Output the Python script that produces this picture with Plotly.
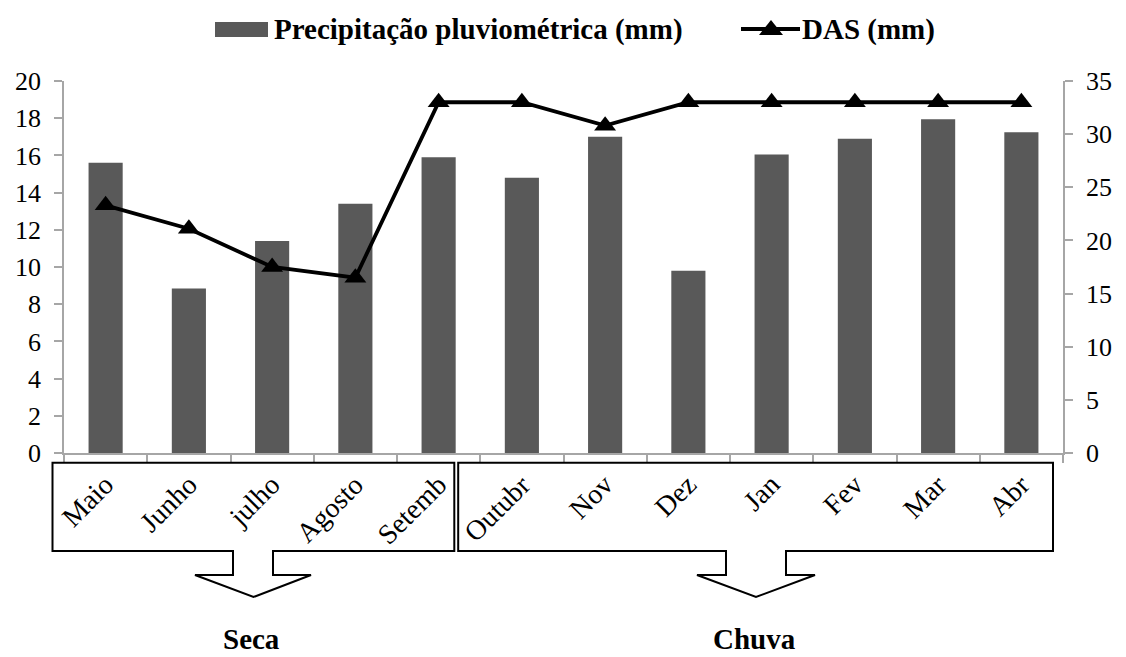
import plotly.graph_objects as go

# Monthly values
meses = ["Maio", "Junho", "julho", "Agosto", "Setemb", "Outubr",
         "Nov", "Dez", "Jan", "Fev", "Mar", "Abr"]
precipitacao = [15.6, 8.85, 11.4, 13.4, 15.9, 14.8, 17.0, 9.8, 16.05, 16.9, 17.95, 17.25]
das = [23.3, 21.1, 17.5, 16.5, 33.0, 33.0, 30.8, 33.0, 33.0, 33.0, 33.0, 33.0]

y_left_ticks = list(range(0, 21, 2))
y_right_ticks = list(range(0, 36, 5))

W, H = 1126, 657
L, R, T, B = 64, 1063, 81, 453   # plot area in pixels


def px(x):
    return (x - L) / (R - L)


def py(y):
    return (B - y) / (B - T)


FONT = "Liberation Serif"
AXIS_GRAY = "#a6a6a6"
BAR_COLOR = "#595959"

fig = go.Figure()

fig.add_trace(go.Bar(
    x=meses, y=precipitacao,
    name="Precipitação pluviométrica (mm)",
    marker=dict(color=BAR_COLOR, line=dict(width=0)),
    yaxis="y", showlegend=False,
))

fig.add_trace(go.Scatter(
    x=meses, y=das,
    name="DAS (mm)",
    mode="lines+markers",
    line=dict(color="black", width=3.8),
    marker=dict(symbol="triangle-up", size=19, color="black"),
    yaxis="y2", showlegend=False, cliponaxis=False,
))


def poly(pts, **kw):
    path = "M " + " L ".join(f"{px(a):.5f},{py(b):.5f}" for a, b in pts) + " Z"
    return dict(type="path", path=path, xref="paper", yref="paper", **kw)


# Season boxes with downward arrows (one path each, open where the arrow stem joins)
def box_with_arrow(x0, x1, y0, y1, s0, s1, h0, h1, tip_x, shoulder_y, tip_y):
    pts = [(s0, y1), (x0, y1), (x0, y0), (x1, y0), (x1, y1), (s1, y1),
           (s1, shoulder_y), (h1, shoulder_y), (tip_x, tip_y), (h0, shoulder_y),
           (s0, shoulder_y)]
    return poly(pts, line=dict(color="black", width=2), fillcolor="rgba(0,0,0,0)")


shapes = [
    box_with_arrow(52.5, 454.3, 462.7, 551, 233, 273, 195, 311, 253.5, 575, 597),
    box_with_arrow(458.2, 1053, 462.7, 551, 726, 786, 697, 815, 756, 575, 597),
    # legend keys
    dict(type="rect", xref="paper", yref="paper",
         x0=px(215), x1=px(268), y0=py(37), y1=py(22),
         fillcolor=BAR_COLOR, line=dict(width=0)),
    dict(type="line", xref="paper", yref="paper",
         x0=px(741), x1=px(800), y0=py(29), y1=py(29),
         line=dict(color="black", width=3.8)),
    poly([(759, 35), (771, 20), (783, 35)], line=dict(width=0), fillcolor="black"),
]

annotations = []
for m in meses:
    annotations.append(dict(
        x=m, xref="x", y=py(466), yref="paper",
        text=m, textangle=-45, showarrow=False,
        xanchor="right", yanchor="top", xshift=17,
        font=dict(family=FONT, size=28, color="black"),
    ))

annotations += [
    dict(x=px(251), y=py(639), xref="paper", yref="paper", text="<b>Seca</b>",
         showarrow=False, xanchor="center", yanchor="middle",
         font=dict(family=FONT, size=29, color="black")),
    dict(x=px(754), y=py(639), xref="paper", yref="paper", text="<b>Chuva</b>",
         showarrow=False, xanchor="center", yanchor="middle",
         font=dict(family=FONT, size=29, color="black")),
    dict(x=px(272), y=py(30), xref="paper", yref="paper",
         text="<b>Precipitação pluviométrica (mm)</b>",
         showarrow=False, xanchor="left", yanchor="middle",
         font=dict(family=FONT, size=29, color="black")),
    dict(x=px(800), y=py(30), xref="paper", yref="paper",
         text="<b>DAS (mm)</b>",
         showarrow=False, xanchor="left", yanchor="middle",
         font=dict(family=FONT, size=29, color="black")),
]

fig.update_layout(
    width=W, height=H,
    margin=dict(l=L, r=W - R, t=T, b=H - B, pad=0),
    paper_bgcolor="white", plot_bgcolor="white",
    bargap=0.59,
    font=dict(family=FONT, color="black"),
    showlegend=False,
    xaxis=dict(
        type="category", range=[-0.5, len(meses) - 0.5],
        showticklabels=False, showgrid=False,
        showline=True, linecolor=AXIS_GRAY, linewidth=1.5,
        ticks="outside", tickson="boundaries", ticklen=8,
        tickcolor=AXIS_GRAY, tickwidth=1.5, zeroline=False,
    ),
    yaxis=dict(
        range=[0, 20], tickvals=y_left_ticks, showgrid=False, zeroline=False,
        showline=True, linecolor=AXIS_GRAY, linewidth=1.5,
        ticks="outside", ticklen=8, tickcolor=AXIS_GRAY, tickwidth=1.5,
        ticklabelstandoff=8,
        tickfont=dict(family=FONT, size=26, color="black"),
    ),
    yaxis2=dict(
        range=[0, 35], tickvals=y_right_ticks, overlaying="y", side="right",
        showgrid=False, zeroline=False,
        showline=True, linecolor=AXIS_GRAY, linewidth=1.5,
        ticks="outside", ticklen=8, tickcolor=AXIS_GRAY, tickwidth=1.5,
        ticklabelstandoff=8,
        tickfont=dict(family=FONT, size=26, color="black"),
    ),
    shapes=shapes,
    annotations=annotations,
)

fig.write_html("out.html")
